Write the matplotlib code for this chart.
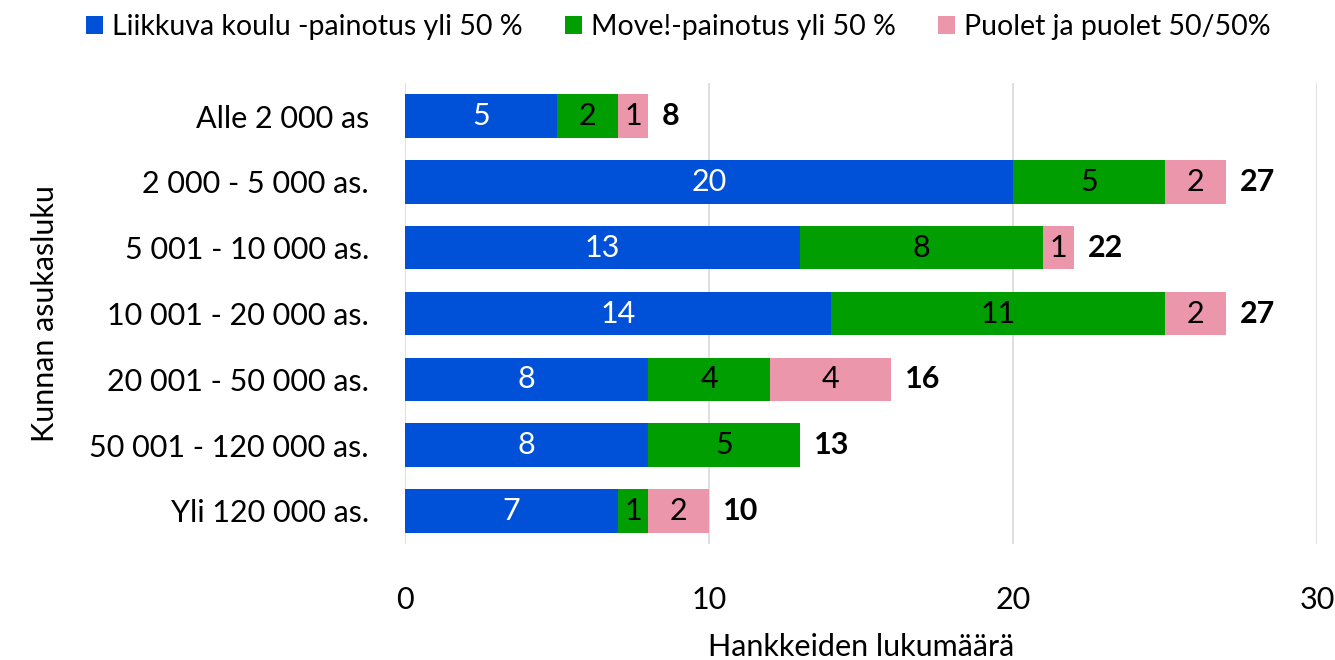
import numpy as np
import matplotlib.pyplot as plt

plt.rcParams['font.family'] = ['Lato', 'DejaVu Sans']

categories = ['Alle 2 000 as', '2 000 - 5 000 as.', '5 001 - 10 000 as.',
              '10 001 - 20 000 as.', '20 001 - 50 000 as.', '50 001 - 120 000 as.',
              'Yli 120 000 as.']
liikkuva = [5, 20, 13, 14, 8, 8, 7]
move = [2, 5, 8, 11, 4, 5, 1]
puolet = [1, 2, 1, 2, 4, 0, 2]
series_names = ['Liikkuva koulu -painotus yli 50 %', 'Move!-painotus yli 50 %',
                'Puolet ja puolet 50/50%']
colors = ['#0050D8', '#009E00', '#EB96AA']
label_colors = ['white', 'black', 'black']

fig = plt.figure(figsize=(13.35, 6.6), dpi=100)
ax = fig.add_axes([0.3034, 0.176, 0.6831, 0.698])

y = np.arange(len(categories))
left = np.zeros(len(categories))
for vals, name, c, lc in zip([liikkuva, move, puolet], series_names, colors, label_colors):
    vals = np.array(vals, dtype=float)
    ax.barh(y, vals, left=left, height=0.66, color=c, label=name, zorder=2)
    for yi, l, v in zip(y, left, vals):
        if v > 0:
            ax.text(l + v / 2, yi, f'{int(v)}', ha='center', va='center',
                    color=lc, fontsize=22, zorder=3)
    left += vals

for yi, tot in zip(y, left):
    ax.text(tot + 0.45, yi, f'{int(tot)}', ha='left', va='center',
            fontsize=22, fontweight='bold')

ax.set_xlim(0, 30)
ax.set_ylim(len(categories) - 0.5, -0.5)
ax.set_yticks(y)
ax.set_yticklabels(categories, fontsize=22)
ax.set_xticks([0, 10, 20, 30])
ax.set_xticklabels(['0', '10', '20', '30'], fontsize=22)
ax.tick_params(axis='both', length=0)
ax.tick_params(axis='x', pad=30)
ax.tick_params(axis='y', pad=26)
for s in ax.spines.values():
    s.set_visible(False)
ax.xaxis.grid(True, color='#D9D9D9', linewidth=1.2, zorder=0)
ax.set_axisbelow(True)
ax.set_xlabel('Hankkeiden lukumäärä', fontsize=22, labelpad=14)
ax.set_ylabel('Kunnan asukasluku', fontsize=22, labelpad=22)

fig.legend(loc='upper center', bbox_to_anchor=(0.508, 1.018), ncol=3, frameon=False,
           fontsize=20.5, handlelength=0.6, handleheight=0.6, handletextpad=0.3,
           columnspacing=1.5)

fig.savefig('out.png', dpi=100)
